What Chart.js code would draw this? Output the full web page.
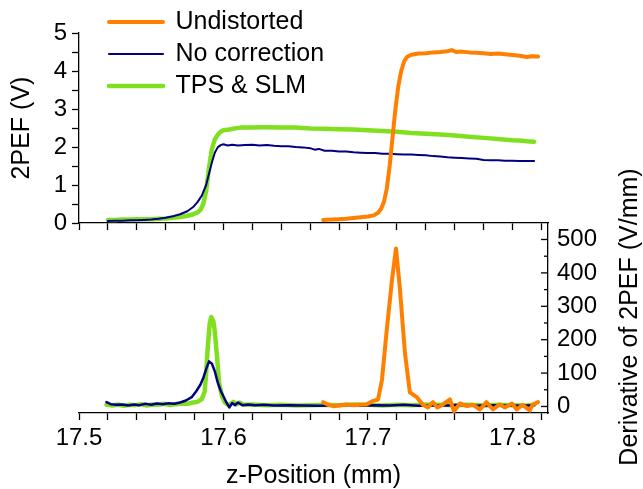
<!DOCTYPE html>
<html><head><meta charset="utf-8">
<script src="https://cdn.jsdelivr.net/npm/chart.js@4.4.1/dist/chart.umd.min.js"></script>
<style>
html,body{margin:0;padding:0;background:#fff;}
#wrap{position:relative;width:643px;height:489px;background:#fff;}
canvas{position:absolute;left:0;top:0;}
</style></head><body>
<div id="wrap"><canvas id="topc" width="643" height="489"></canvas><canvas id="botc" width="643" height="489"></canvas></div>
<script>
// ---------- DATA ----------
const seriesNames = ['Undistorted', 'No correction', 'TPS & SLM'];

// top panel: 2PEF (V) vs z-Position (mm)
const undistZ = [17.669,17.675,17.680,17.685,17.690,17.695,17.700,17.704,17.707,17.709,17.711,17.713,17.715,17.717,17.719,17.721,17.723,17.725,17.727,17.730,17.735,17.740,17.745,17.750,17.755,17.758,17.761,17.765,17.770,17.775,17.780,17.785,17.790,17.795,17.800,17.805,17.810,17.813,17.8177];
const undistV = [0.08,0.09,0.10,0.11,0.13,0.15,0.17,0.20,0.27,0.37,0.55,0.90,1.50,2.25,3.00,3.60,4.00,4.25,4.37,4.43,4.46,4.47,4.49,4.50,4.52,4.55,4.50,4.51,4.49,4.48,4.47,4.45,4.46,4.44,4.42,4.40,4.37,4.39,4.38];

const nocorrZ = [17.520,17.525,17.530,17.535,17.540,17.545,17.550,17.555,17.560,17.565,17.570,17.575,17.579,17.582,17.585,17.588,17.590,17.592,17.594,17.596,17.598,17.600,17.603,17.606,17.610,17.615,17.620,17.625,17.630,17.635,17.640,17.645,17.650,17.655,17.660,17.663,17.666,17.670,17.675,17.680,17.685,17.690,17.695,17.700,17.705,17.710,17.715,17.720,17.725,17.730,17.735,17.740,17.745,17.750,17.755,17.760,17.765,17.770,17.775,17.780,17.785,17.790,17.795,17.800,17.805,17.810,17.815];
const nocorrV = [0.05,0.06,0.06,0.07,0.07,0.08,0.09,0.11,0.14,0.18,0.23,0.31,0.42,0.55,0.72,1.00,1.30,1.60,1.85,1.99,2.05,2.07,2.04,2.06,2.04,2.05,2.06,2.04,2.05,2.03,2.02,2.02,2.00,1.99,1.97,1.93,1.95,1.90,1.90,1.88,1.88,1.86,1.85,1.84,1.84,1.82,1.82,1.81,1.80,1.80,1.79,1.78,1.76,1.75,1.73,1.72,1.71,1.70,1.69,1.66,1.65,1.65,1.64,1.64,1.63,1.63,1.63];

const tpsZ = [17.520,17.525,17.530,17.535,17.540,17.545,17.550,17.555,17.560,17.565,17.570,17.575,17.579,17.582,17.584,17.586,17.588,17.590,17.592,17.594,17.596,17.598,17.600,17.604,17.608,17.612,17.620,17.625,17.630,17.640,17.650,17.660,17.670,17.680,17.690,17.700,17.710,17.720,17.730,17.740,17.750,17.760,17.770,17.780,17.790,17.800,17.805,17.810,17.815];
const tpsV = [0.08,0.08,0.09,0.09,0.10,0.10,0.10,0.11,0.12,0.14,0.16,0.19,0.23,0.28,0.34,0.50,0.85,1.45,1.95,2.20,2.32,2.40,2.44,2.46,2.49,2.51,2.51,2.52,2.52,2.51,2.51,2.49,2.48,2.47,2.46,2.44,2.42,2.40,2.37,2.35,2.33,2.30,2.27,2.24,2.21,2.18,2.17,2.15,2.14];

// bottom panel: derivative of 2PEF (V/mm)
const undistDZ = [17.669,17.672,17.676,17.680,17.685,17.690,17.695,17.699,17.703,17.707,17.7097,17.713,17.7166,17.7194,17.722,17.7256,17.729,17.734,17.738,17.7415,17.745,17.748,17.752,17.7567,17.7595,17.7637,17.7685,17.7727,17.7775,17.782,17.7865,17.791,17.7948,17.7997,17.803,17.807,17.812,17.814,17.8177];
const undistD = [13,6,1,3,6,4,5,6,16,21,80,229,378,473,358,160,42,27,5,-3,13,-3,6,21,-14,9,1,5,-9,13,-9,6,-3,9,-9,5,-12,6,13];

const nocorrDZ = [17.519,17.522,17.526,17.530,17.534,17.538,17.542,17.546,17.550,17.554,17.558,17.562,17.566,17.570,17.574,17.578,17.581,17.584,17.586,17.588,17.590,17.592,17.594,17.596,17.598,17.600,17.602,17.604,17.606,17.608,17.610,17.613,17.617,17.622,17.628,17.635,17.645,17.655,17.665,17.675,17.685,17.695,17.705,17.715,17.725,17.735,17.745,17.755,17.765,17.775,17.785,17.795,17.805,17.815];
const nocorrD = [13,7,5,6,3,6,4,8,5,9,7,10,8,12,18,28,45,65,85,112,135,128,105,72,48,30,12,-3,10,4,12,4,6,4,5,3,4,3,2,3,5,2,4,3,5,2,4,3,5,2,4,3,2,4];

const tpsDZ = [17.519,17.523,17.527,17.531,17.535,17.539,17.543,17.547,17.551,17.555,17.559,17.563,17.567,17.571,17.575,17.579,17.582,17.585,17.587,17.588,17.589,17.5905,17.5915,17.593,17.594,17.5955,17.597,17.599,17.601,17.603,17.605,17.607,17.609,17.611,17.614,17.620,17.630,17.640,17.650,17.660,17.670,17.680,17.690,17.700,17.710,17.720,17.730,17.740,17.750,17.760,17.770,17.780,17.790,17.800,17.810,17.815];
const tpsD = [5,3,6,2,5,4,7,3,6,5,8,4,7,9,8,12,14,22,45,100,170,250,268,255,225,150,70,30,12,5,8,14,6,12,5,6,4,5,3,4,5,4,6,5,3,5,4,6,5,4,5,3,5,4,3,5];

// ticks
const xTickValues = [17.50,17.52,17.54,17.56,17.58,17.60,17.62,17.64,17.66,17.68,17.70,17.72,17.74,17.76,17.78,17.80,17.82];
const xTickLabels = ['17.5','','','','','17.6','','','','','17.7','','','','','17.8',''];
const vTickValues = [0,0.5,1,1.5,2,2.5,3,3.5,4,4.5,5];
const vTickLabels = ['0','','1','','2','','3','','4','','5'];
const dTickValues = [0,50,100,150,200,250,300,350,400,450,500];
const dTickLabels = ['0','','100','','200','','300','','400','','500'];

// ---------- STYLE ----------
const FONT = "'Liberation Sans', Arial, Helvetica, sans-serif";
Chart.defaults.font.family = FONT;
Chart.defaults.color = '#000';
const COLORS = ['#FF7F00', '#000080', '#80E020'];
const WIDTHS = [4, 2, 4.5];
const X_MIN = 17.5, X_MAX = 17.8246;
const AXIS = '#000', AXW = 1.3;

function pts(xs, ys) { return xs.map((x, i) => ({x: x, y: ys[i]})); }
function ds(i, xs, ys, w) {
  return {
    label: seriesNames[i], data: pts(xs, ys),
    borderColor: COLORS[i], backgroundColor: COLORS[i], borderWidth: w || WIDTHS[i],
    pointBorderColor: COLORS[i], pointBorderWidth: w || WIDTHS[i],
    pointRadius: 0, pointHoverRadius: 0, tension: 0, fill: false,
    borderJoinStyle: 'round', borderCapStyle: 'round', clip: false
  };
}
function setTicks(vals) { return s => { s.ticks = vals.map(v => ({value: v})); }; }
function labelFrom(vals, labels) { return (v) => { const i = vals.findIndex(t => Math.abs(t - v) < 1e-9); return i >= 0 ? labels[i] : ''; }; }

const legendMover = {
  id: 'legendMover',
  beforeDraw(chart) {
    const L = chart.legend; if (!L) return;
    const w = L.width;
    L.left = 102; L.top = 2.5; L.right = L.left + w; L.bottom = L.top + 300;
  }
};

// ---------- TOP CHART ----------
new Chart(document.getElementById('topc'), {
  type: 'line',
  data: { datasets: [ds(0, undistZ, undistV), ds(1, nocorrZ, nocorrV), ds(2, tpsZ, tpsV)] },
  options: {
    responsive: false, animation: false, devicePixelRatio: 1,
    layout: { padding: { left: 0, top: 33, right: 95, bottom: 256 } },
    plugins: {
      tooltip: { enabled: false },
      legend: {
        position: 'chartArea', align: 'start',
        labels: {
          usePointStyle: true, pointStyle: 'line', pointStyleWidth: 54, padding: 7,
          font: { size: 25 }, color: '#000',
          generateLabels: (chart) => {
            const items = Chart.defaults.plugins.legend.labels.generateLabels(chart);
            items.forEach(it => {
              const d = chart.data.datasets[it.datasetIndex];
              it.lineWidth = d.borderWidth; it.strokeStyle = d.borderColor;
              it.lineCap = 'round'; it.pointStyle = 'line';
            });
            return items;
          }
        }
      }
    },
    scales: {
      x: {
        type: 'linear', position: 'bottom', min: X_MIN, max: X_MAX,
        afterBuildTicks: setTicks(xTickValues), afterFit: s => { s.height = 10; },
        ticks: { display: false, autoSkip: false },
        grid: { drawOnChartArea: false, drawTicks: true, tickLength: 7, tickColor: AXIS, tickWidth: AXW },
        border: { color: AXIS, width: AXW }
      },
      y: {
        type: 'linear', position: 'left', min: 0, max: 5,
        afterBuildTicks: setTicks(vTickValues), afterFit: s => { s.width = 79; },
        ticks: { autoSkip: false, font: { size: 24 }, padding: 5, callback: labelFrom(vTickValues, vTickLabels) },
        grid: { drawOnChartArea: false, drawTicks: true, tickLength: 7, tickColor: AXIS, tickWidth: AXW },
        border: { color: AXIS, width: AXW },
        title: { display: true, text: '2PEF (V)', font: { size: 25, lineHeight: 1 }, padding: { top: 10, bottom: 0 } }
      }
    }
  },
  plugins: [legendMover]
});

// ---------- BOTTOM CHART ----------
const rightAxisDeco = {
  id: 'rightAxisDeco',
  afterDraw(chart) {
    const s = chart.scales.y, ctx = chart.ctx;
    ctx.save();
    ctx.strokeStyle = AXIS; ctx.lineWidth = AXW;
    s.ticks.forEach(t => {
      const y = s.getPixelForValue(t.value);
      const len = (t.value % 100 === 0) ? 7 : 4;
      ctx.beginPath(); ctx.moveTo(s.left - len, y); ctx.lineTo(s.left, y); ctx.stroke();
    });
    ctx.fillStyle = '#000';
    ctx.font = '25px ' + FONT;
    ctx.textAlign = 'center'; ctx.textBaseline = 'middle';
    ctx.translate(630, (s.top + s.bottom) / 2 - 1);
    ctx.rotate(-Math.PI / 2);
    ctx.fillText('Derivative of 2PEF (V/mm)', 0, 0);
    ctx.restore();
  }
};

new Chart(document.getElementById('botc'), {
  type: 'line',
  data: { datasets: [ds(0, undistDZ, undistD), ds(1, nocorrDZ, nocorrD, 2.5), ds(2, tpsDZ, tpsD)] },
  options: {
    responsive: false, animation: false, devicePixelRatio: 1,
    layout: { padding: { left: 79, top: 223, right: 0, bottom: 0 } },
    plugins: { tooltip: { enabled: false }, legend: { display: false } },
    scales: {
      x: {
        type: 'linear', position: 'bottom', min: X_MIN, max: X_MAX,
        afterBuildTicks: setTicks(xTickValues), afterFit: s => { s.height = 76; },
        ticks: { autoSkip: false, maxRotation: 0, minRotation: 0, font: { size: 24 }, padding: 4, callback: labelFrom(xTickValues, xTickLabels) },
        grid: { drawOnChartArea: false, drawTicks: true, tickLength: 7, tickColor: AXIS, tickWidth: AXW },
        border: { color: AXIS, width: AXW },
        title: { display: true, text: 'z-Position (mm)', font: { size: 25, lineHeight: 1 }, padding: { top: 0, bottom: 0 } }
      },
      y: {
        type: 'linear', position: 'right', min: -19.5, max: 549.4,
        afterBuildTicks: setTicks(dTickValues), afterFit: s => { s.width = 95; },
        ticks: { autoSkip: false, font: { size: 24 }, padding: 9, callback: labelFrom(dTickValues, dTickLabels) },
        grid: { drawOnChartArea: false, drawTicks: false },
        border: { color: AXIS, width: AXW }
      }
    }
  },
  plugins: [rightAxisDeco]
});
</script>
</body></html>
